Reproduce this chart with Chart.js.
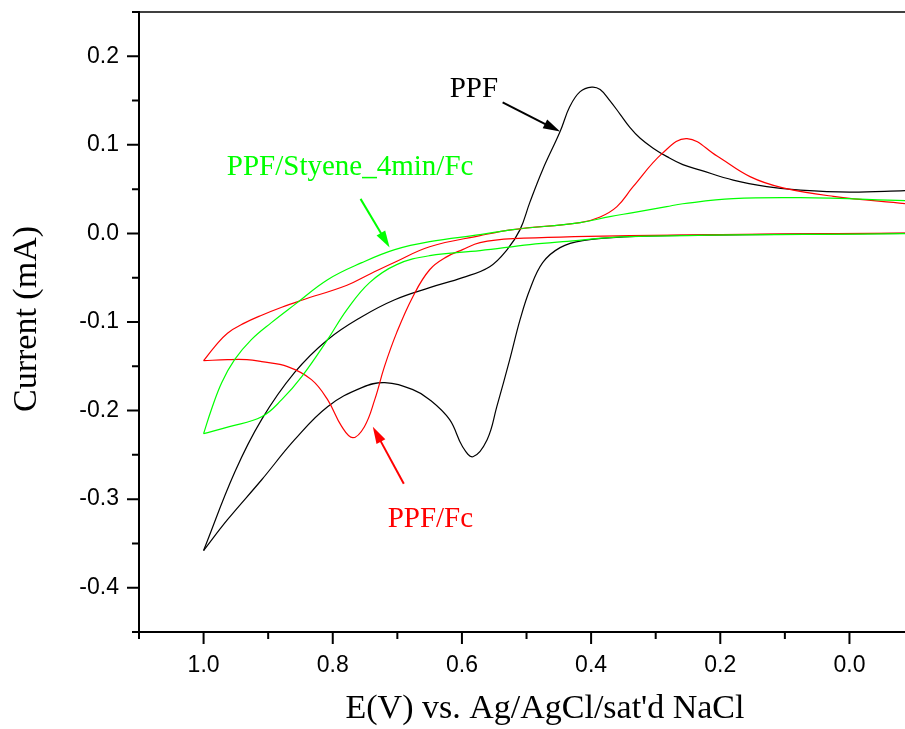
<!DOCTYPE html>
<html>
<head>
<meta charset="utf-8">
<script src="https://cdn.jsdelivr.net/npm/chart.js@4.4.1/dist/chart.umd.min.js"></script>
<style>
  html, body { margin: 0; padding: 0; background: #fff; }
  #wrap { width: 905px; height: 729px; position: relative; }
</style>
</head>
<body>
<div id="wrap"><canvas id="cv" width="905" height="729"></canvas></div>
<script>
// Cyclic voltammograms: potential E (V) and current I (mA), each loop split into
// its two branches running from the 1.0 V vertex towards the right-hand end.

// bare PPF
const ppfUpperE = [1.0, 0.952, 0.910, 0.859, 0.808, 0.755, 0.704, 0.650, 0.599, 0.557, 0.530, 0.510, 0.495, 0.475, 0.448, 0.433, 0.417, 0.399, 0.386, 0.371, 0.355, 0.340, 0.324, 0.304, 0.2825, 0.258, 0.231, 0.180, 0.128, 0.076, 0.0, -0.086];
const ppfUpperI = [-0.358, -0.270, -0.210, -0.157, -0.120, -0.094, -0.0748, -0.0612, -0.0499, -0.0375, -0.0182, 0.0043, 0.0348, 0.0720, 0.1150, 0.1432, 0.1601, 0.1652, 0.1624, 0.1500, 0.1345, 0.1198, 0.1074, 0.0963, 0.0867, 0.0777, 0.0715, 0.0602, 0.0529, 0.0489, 0.0466, 0.0483];
const ppfLowerE = [1.0, 0.963, 0.910, 0.859, 0.808, 0.755, 0.7195, 0.676, 0.650, 0.619, 0.599, 0.583, 0.561, 0.546, 0.526, 0.510, 0.495, 0.475, 0.448, 0.413, 0.340, 0.231, 0.076, -0.086];
const ppfLowerI = [-0.358, -0.3232, -0.2781, -0.2329, -0.1956, -0.1741, -0.1685, -0.1764, -0.1877, -0.2103, -0.2408, -0.2521, -0.2329, -0.1956, -0.1425, -0.0974, -0.0635, -0.0330, -0.0160, -0.0081, -0.0036, -0.0019, -0.0008, 0.0];

// PPF/Fc
const fcUpperE = [1.0, 0.983, 0.963, 0.937, 0.910, 0.879, 0.848, 0.778, 0.740, 0.704, 0.650, 0.572, 0.521, 0.417, 0.386, 0.360, 0.335, 0.289, 0.2515, 0.205, 0.154, 0.103, 0.025, -0.086];
const fcUpperI = [-0.1437, -0.128, -0.1126, -0.1013, -0.0923, -0.0833, -0.0754, -0.0585, -0.0449, -0.0325, -0.0150, -0.0025, 0.0043, 0.0122, 0.0186, 0.0303, 0.0528, 0.0909, 0.1071, 0.0873, 0.0641, 0.0514, 0.0419, 0.0337];
const fcLowerE = [1.0, 0.963, 0.933, 0.910, 0.870, 0.833, 0.808, 0.786, 0.769, 0.751, 0.735, 0.720, 0.701, 0.676, 0.650, 0.623, 0.599, 0.572, 0.521, 0.340, -0.086];
const fcLowerI = [-0.1437, -0.1425, -0.1425, -0.1448, -0.1504, -0.1651, -0.1877, -0.2182, -0.2306, -0.2182, -0.1877, -0.1504, -0.1120, -0.0714, -0.0410, -0.0262, -0.0183, -0.0104, -0.0059, -0.0025, 0.0003];

// PPF/Styene_4min/Fc
const styUpperE = [1.0, 0.988, 0.972, 0.952, 0.926, 0.895, 0.859, 0.808, 0.755, 0.704, 0.650, 0.572, 0.521, 0.417, 0.371, 0.335, 0.283, 0.258, 0.180, 0.076, -0.086];
const styUpperI = [-0.2261, -0.199, -0.1685, -0.1425, -0.1199, -0.1007, -0.0804, -0.0522, -0.0330, -0.0183, -0.0093, -0.0014, 0.0043, 0.0122, 0.0190, 0.0235, 0.0303, 0.0335, 0.0393, 0.0404, 0.0370];
const styLowerE = [1.0, 0.960, 0.910, 0.879, 0.848, 0.808, 0.778, 0.743, 0.701, 0.650, 0.572, 0.495, 0.444, 0.340, -0.086];
const styLowerI = [-0.2261, -0.2182, -0.2069, -0.1877, -0.1617, -0.1199, -0.0860, -0.0555, -0.0352, -0.0251, -0.0194, -0.0126, -0.0093, -0.0036, -0.0002];

// axis ticks
const xMajor = [1.0, 0.8, 0.6, 0.4, 0.2, 0.0];
const xMinor = [1.1, 0.9, 0.7, 0.5, 0.3, 0.1];
const yMajor = [-0.4, -0.3, -0.2, -0.1, 0.0, 0.1, 0.2];
const yMinor = [-0.45, -0.35, -0.25, -0.15, -0.05, 0.05, 0.15, 0.25];

const pts = (es, is) => es.map((e, k) => ({ x: e, y: is[k] }));

const BLACK = '#000000', RED = '#ff0000', GREEN = '#00ff00';

function branch(es, is, color) {
  return {
    data: pts(es, is),
    borderColor: color,
    borderWidth: 1.2,
    pointRadius: 0,
    showLine: true,
    fill: false,
    tension: 0.4
  };
}

// curve labels with pointer arrows, placed in data units
const notes = [
  { text: 'PPF', color: BLACK, at: [0.619, 0.1545], from: [0.537, 0.148], to: [0.448, 0.115] },
  { text: 'PPF/Styene_4min/Fc', color: GREEN, at: [0.964, 0.0664], from: [0.757, 0.039], to: [0.712, -0.016] },
  { text: 'PPF/Fc', color: RED, at: [0.715, -0.331], from: [0.690, -0.2826], to: [0.738, -0.2182] }
];

function arrow(ctx, x0, y0, x1, y1, color) {
  const ang = Math.atan2(y1 - y0, x1 - x0);
  const len = 17, half = 5;
  const bx = x1 - len * Math.cos(ang), by = y1 - len * Math.sin(ang);
  ctx.strokeStyle = color;
  ctx.fillStyle = color;
  ctx.lineWidth = 2;
  ctx.beginPath();
  ctx.moveTo(x0, y0);
  ctx.lineTo(bx + 2 * Math.cos(ang), by + 2 * Math.sin(ang));
  ctx.stroke();
  ctx.beginPath();
  ctx.moveTo(x1, y1);
  ctx.lineTo(bx - half * Math.sin(ang), by + half * Math.cos(ang));
  ctx.lineTo(bx + half * Math.sin(ang), by - half * Math.cos(ang));
  ctx.closePath();
  ctx.fill();
}

const frame = {
  id: 'frame',
  afterDraw(chart) {
    const { ctx, chartArea: a, scales: { x, y } } = chart;
    ctx.save();
    // top border
    ctx.strokeStyle = '#000';
    ctx.lineWidth = 1.3;
    ctx.beginPath();
    ctx.moveTo(a.left, a.top);
    ctx.lineTo(a.right, a.top);
    ctx.stroke();
    // left and bottom axes
    ctx.lineWidth = 2;
    ctx.beginPath();
    ctx.moveTo(a.left, a.top - 1);
    ctx.lineTo(a.left, a.bottom);
    ctx.lineTo(a.right, a.bottom);
    ctx.stroke();
    // outward tick marks
    const xt = (v, len) => { const p = x.getPixelForValue(v); ctx.moveTo(p, a.bottom); ctx.lineTo(p, a.bottom + len); };
    const yt = (v, len) => { const p = y.getPixelForValue(v); ctx.moveTo(a.left, p); ctx.lineTo(a.left - len, p); };
    ctx.beginPath();
    xMajor.forEach(v => xt(v, 12));
    xMinor.forEach(v => xt(v, 7));
    yMajor.forEach(v => yt(v, 12));
    yMinor.forEach(v => yt(v, 7));
    ctx.stroke();

    // axis titles
    ctx.fillStyle = '#000';
    ctx.font = '34px "Liberation Serif", "Times New Roman", serif';
    ctx.textAlign = 'center';
    ctx.textBaseline = 'alphabetic';
    ctx.fillText("E(V) vs. Ag/AgCl/sat'd NaCl", 545, 718);
    ctx.save();
    ctx.translate(36, 319);
    ctx.rotate(-Math.PI / 2);
    ctx.fillText('Current (mA)', 0, 0);
    ctx.restore();

    // curve labels
    ctx.font = '29px "Liberation Serif", "Times New Roman", serif';
    ctx.textAlign = 'left';
    notes.forEach(n => {
      ctx.fillStyle = n.color;
      ctx.fillText(n.text, x.getPixelForValue(n.at[0]), y.getPixelForValue(n.at[1]));
      arrow(ctx,
        x.getPixelForValue(n.from[0]), y.getPixelForValue(n.from[1]),
        x.getPixelForValue(n.to[0]), y.getPixelForValue(n.to[1]), n.color);
    });
    ctx.restore();
  }
};

const tickFont = { family: '"Liberation Sans", Arial, sans-serif', size: 23 };

new Chart(document.getElementById('cv'), {
  type: 'scatter',
  data: {
    datasets: [
      branch(styUpperE, styUpperI, GREEN),
      branch(styLowerE, styLowerI, GREEN),
      branch(fcUpperE, fcUpperI, RED),
      branch(fcLowerE, fcLowerI, RED),
      branch(ppfUpperE, ppfUpperI, BLACK),
      branch(ppfLowerE, ppfLowerI, BLACK)
    ]
  },
  options: {
    responsive: false,
    animation: false,
    devicePixelRatio: 1,
    layout: { padding: { left: 0, top: 12, right: 0, bottom: 0 } },
    plugins: { legend: { display: false }, tooltip: { enabled: false } },
    scales: {
      x: {
        type: 'linear',
        reverse: true,
        min: -0.086,
        max: 1.1,
        afterBuildTicks: s => { s.ticks = xMajor.map(v => ({ value: v })); },
        afterFit: s => { s.height = 97; s.paddingLeft = 0; s.paddingRight = 0; },
        grid: { display: false, drawTicks: false },
        border: { display: false },
        ticks: { font: tickFont, color: '#000', padding: 20, maxRotation: 0, autoSkip: false,
                 callback: v => v.toFixed(1) }
      },
      y: {
        type: 'linear',
        min: -0.45,
        max: 0.25,
        afterBuildTicks: s => { s.ticks = yMajor.map(v => ({ value: v })); },
        afterFit: s => { s.width = 139; s.paddingTop = 0; s.paddingBottom = 0; },
        grid: { display: false, drawTicks: false },
        border: { display: false },
        ticks: { font: tickFont, color: '#000', padding: 20, autoSkip: false,
                 callback: v => v.toFixed(1) }
      }
    }
  },
  plugins: [frame]
});
</script>
</body>
</html>
